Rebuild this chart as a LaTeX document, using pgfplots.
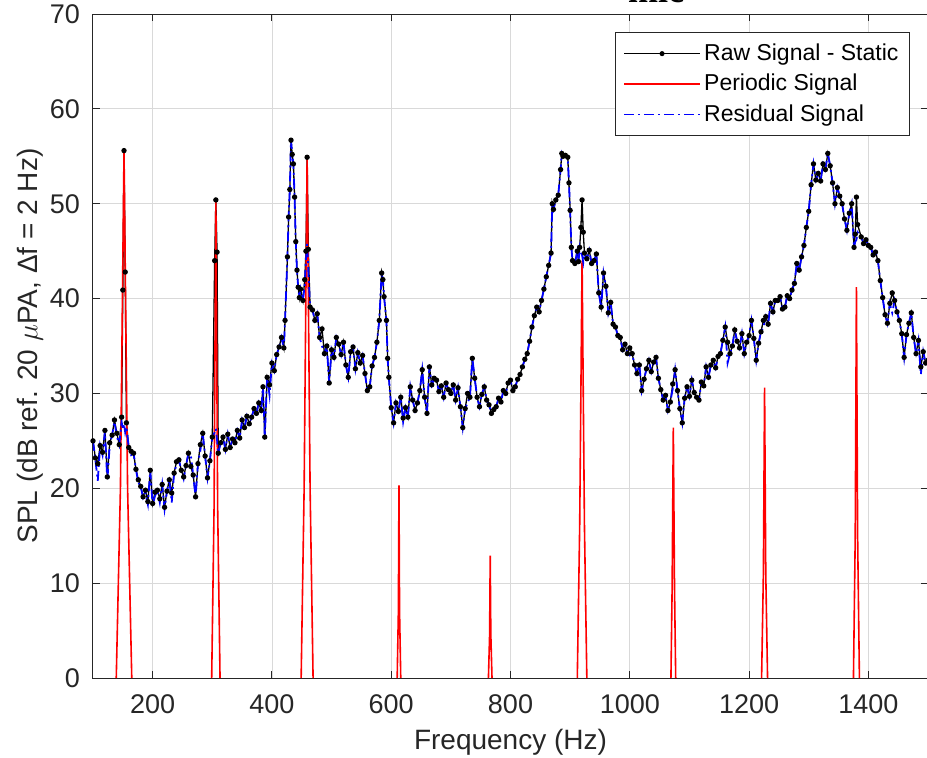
\documentclass[border=0pt]{standalone}
\usepackage{fontspec}
\setmainfont{Liberation Sans}
\newfontfamily\titlefont{Liberation Serif}
\usepackage{pgfplots}
\pgfplotsset{compat=1.18}
\usepackage{pgfplotstable}

% SPL spectra, 100-1500 Hz: raw signal and residual (periodic part removed)
\pgfplotstableread{
f raw res
100 25.0 25.0
104 23.2 23.0
108 22.6 20.8
112 24.5 24.5
116 23.8 23.5
120 26.1 26.0
124 21.2 20.8
128 24.8 24.5
132 25.6 25.6
136 27.2 27.0
140 25.8 25.5
144 24.6 24.6
148 27.5 27.0
150 40.9 26.2
152 55.6 26.8
154 42.8 25.9
156 26.9 26.5
160 24.3 24.3
164 23.9 23.5
168 23.7 23.7
172 22.0 22.0
176 20.9 20.6
180 20.2 20.2
184 19.1 19.0
188 19.8 19.5
192 18.6 18.3
196 21.9 21.9
200 18.4 18.2
204 19.6 19.2
208 19.8 19.8
212 18.9 18.5
216 20.4 20.4
220 18.0 17.8
224 19.7 19.7
228 20.9 20.9
232 19.5 18.5
236 21.6 21.6
240 22.8 22.5
244 23.0 23.0
248 21.9 21.9
252 21.2 21.0
256 22.4 22.4
260 23.7 23.7
264 22.3 23.5
268 21.4 21.4
272 19.1 19.1
276 22.6 22.6
280 24.6 24.0
284 25.8 25.8
288 23.4 23.4
292 21.1 21.1
296 22.9 22.9
300 25.4 25.4
304 44.0 25.9
306 50.4 26.3
308 44.9 25.1
310 23.7 23.7
314 24.8 24.8
318 25.4 25.4
322 24.1 24.1
326 25.7 25.7
330 24.3 24.3
334 25.2 25.2
338 24.8 24.8
342 26.1 26.1
346 25.3 25.3
350 27.2 27.2
354 26.4 26.4
358 27.6 27.6
362 26.8 26.8
366 27.5 27.5
370 28.4 28.4
374 27.9 27.9
378 29.0 29.0
382 28.2 28.2
385 30.7 30.7
388 25.4 25.4
392 31.7 31.7
396 30.9 29.8
400 33.2 33.2
404 32.4 32.4
408 34.1 34.1
412 34.9 34.9
416 35.9 35.9
420 34.8 34.8
422 37.7 37.7
426 44.4 44.4
428 48.6 48.6
430 51.5 51.5
432 56.7 56.7
434 55.2 55.2
436 54.2 54.2
438 50.7 50.7
440 46.0 46.0
442 43.0 43.0
444 41.2 41.2
446 40.1 40.1
448 41.0 41.0
452 39.8 39.8
455 42.0 41.5
457 45.0 44.0
459 54.9 45.8
461 45.2 43.0
464 39.1 39.1
468 38.8 38.8
472 37.7 37.7
476 38.4 38.4
480 35.9 35.9
484 36.8 35.0
488 34.2 34.2
492 35.0 35.0
496 31.1 31.1
500 34.6 34.6
504 33.8 33.8
508 35.9 35.9
512 35.2 35.2
516 34.1 34.1
520 35.4 35.4
524 33.0 33.0
528 31.7 31.7
532 34.4 34.4
536 34.9 34.9
540 32.6 32.6
544 34.3 34.3
548 33.2 33.2
552 34.0 34.0
556 32.1 32.1
560 30.3 30.3
564 30.7 30.7
568 32.9 32.9
572 33.8 33.8
576 35.4 35.4
580 37.7 37.7
584 42.7 42.7
586 42.0 42.0
588 40.2 40.2
592 37.7 37.7
594 33.7 33.7
596 31.7 31.7
600 28.5 28.5
604 26.9 26.9
608 29.0 29.0
612 28.1 28.1
616 29.6 29.6
620 27.4 27.0
624 28.5 28.5
628 27.5 27.5
632 30.7 30.7
636 29.3 29.3
640 28.2 28.2
644 29.0 29.0
648 30.3 30.3
652 32.5 32.5
656 29.6 29.6
660 27.9 27.9
664 32.8 32.8
668 30.9 30.9
672 31.6 31.6
676 31.4 31.4
680 30.2 30.2
684 30.8 30.8
688 29.6 29.6
692 31.1 31.1
696 30.4 30.4
700 30.0 30.0
704 30.9 30.9
708 29.3 29.3
712 30.6 30.6
716 28.6 28.6
720 26.4 26.4
724 28.4 28.4
728 30.0 29.0
732 29.6 29.6
736 33.7 33.7
740 31.6 31.6
744 29.6 29.6
748 28.6 28.6
752 29.9 29.9
756 30.7 30.7
760 29.3 29.3
764 28.8 28.8
768 27.9 27.9
772 28.3 28.3
776 28.6 28.6
780 29.5 29.5
784 29.1 29.1
788 30.3 30.3
792 30.0 30.0
796 31.1 31.1
800 31.4 31.4
804 30.3 30.3
808 30.7 30.7
812 31.5 31.5
816 32.0 32.0
820 32.8 32.8
824 33.6 33.6
828 34.2 34.2
832 35.5 35.5
836 37.0 37.0
840 38.2 38.2
844 39.1 39.1
848 38.6 38.6
852 39.8 39.8
856 41.0 41.0
860 42.3 42.3
864 43.5 43.5
868 44.8 44.8
870 50.0 50.0
872 49.4 49.4
876 50.4 50.4
880 50.9 50.9
884 53.6 53.6
886 55.3 55.3
888 55.0 55.0
892 55.1 55.1
896 54.9 54.9
898 52.2 52.2
900 49.3 49.3
902 45.4 45.4
904 44.0 44.0
908 43.7 43.7
912 45.0 45.0
914 43.9 43.9
916 45.4 45.4
918 47.5 44.9
920 50.4 44.6
922 47.0 43.8
924 44.8 44.8
928 44.2 44.2
932 45.1 45.1
936 43.7 43.7
940 44.0 44.0
944 44.7 44.7
948 40.6 40.6
952 39.1 39.1
956 42.7 42.7
960 41.3 41.3
964 38.5 38.5
968 39.6 39.6
972 37.3 37.3
976 37.0 37.0
980 36.1 36.1
984 35.9 35.9
988 34.6 34.6
992 35.2 35.2
996 34.2 34.2
1000 34.8 34.0
1004 34.2 34.2
1008 33.0 33.0
1012 32.1 32.1
1016 33.0 33.0
1020 30.3 30.3
1024 31.5 31.5
1028 32.6 32.6
1032 33.5 33.5
1036 32.3 32.3
1040 33.3 33.3
1044 33.8 33.8
1048 31.6 31.6
1052 30.4 30.4
1056 29.3 29.3
1060 29.8 29.8
1064 28.2 28.2
1068 29.1 29.1
1072 31.0 30.5
1076 32.5 32.5
1080 30.3 30.3
1084 28.4 28.4
1088 26.9 26.9
1092 29.5 29.5
1096 30.7 30.7
1100 29.7 29.7
1104 31.4 31.4
1108 30.1 30.1
1112 29.6 29.6
1116 29.3 29.3
1120 31.2 31.2
1124 30.8 30.8
1128 32.8 32.8
1132 31.7 31.7
1136 33.0 33.0
1140 33.5 33.5
1144 32.7 32.7
1148 33.9 33.9
1152 34.2 34.2
1156 35.6 35.6
1160 37.0 37.0
1164 35.4 33.2
1168 34.2 34.2
1172 35.0 35.0
1176 36.7 36.7
1180 35.5 35.5
1184 34.8 34.8
1188 36.3 36.3
1192 34.2 34.2
1196 35.4 35.4
1200 36.1 36.1
1204 37.7 37.7
1208 35.8 35.8
1212 33.5 33.5
1216 35.3 35.3
1220 36.5 36.5
1224 37.7 37.0
1228 38.1 38.1
1232 37.3 37.3
1236 39.5 39.5
1240 38.6 38.6
1244 39.8 39.8
1248 39.8 39.8
1252 40.2 40.2
1256 38.9 38.9
1260 39.1 39.1
1264 40.3 40.3
1268 40.0 40.0
1272 40.9 40.9
1276 41.6 41.6
1280 43.7 43.7
1284 43.0 43.0
1288 44.4 44.4
1292 45.6 45.6
1296 47.5 47.5
1300 49.2 49.2
1304 52.0 52.0
1308 54.2 54.2
1312 52.5 52.5
1316 53.2 53.2
1320 52.4 52.4
1324 54.2 54.2
1328 53.6 53.6
1332 55.3 55.3
1336 54.0 54.0
1340 52.2 52.2
1344 50.0 50.0
1348 51.7 51.7
1352 50.8 50.8
1356 50.0 50.0
1360 48.4 48.4
1364 47.2 47.2
1368 49.0 49.0
1372 50.0 50.0
1376 45.4 45.4
1378 46.8 46.0
1380 50.7 46.2
1382 47.8 47.0
1388 46.5 46.5
1392 45.8 45.8
1396 46.2 46.2
1400 45.6 45.6
1404 45.4 45.4
1408 44.6 44.6
1412 44.9 44.9
1416 44.0 44.0
1420 41.9 41.9
1424 40.1 40.1
1428 38.3 38.3
1432 37.4 37.4
1436 39.5 39.5
1440 40.6 38.5
1444 39.8 39.8
1448 38.6 38.6
1452 37.7 37.7
1456 36.3 36.3
1460 33.8 33.8
1464 36.2 36.2
1468 37.4 37.4
1472 38.5 38.5
1476 35.9 35.9
1480 34.2 34.2
1484 35.6 35.6
1488 32.8 32.0
1492 34.4 34.4
1496 33.2 33.2
1500 33.5 32.5
}\spl

% periodic part: narrow tonal peaks at the harmonics
\pgfplotstableread{
f per
139 0
146 20
152 55.5
158 20
165 0
nan nan
299 0
303 18
306 50.3
309 18
313 0
nan nan
449 0
454 20
459 54.8
464 20
469 0
nan nan
610 0
612 7
613 20.3
614 7
616 0
nan nan
763 0
765 4.6
766 12.9
767 4.6
769 0
nan nan
912 0
916 16
920 44.0
924 16
928 0
nan nan
1069 0
1071 9.5
1073 26.4
1075 9.5
1077 0
nan nan
1221 0
1224 11
1226 30.6
1228 11
1231 0
nan nan
1375 0
1378 15
1380 41.2
1382 15
1385 0
}\periodic

\begin{document}
\begin{tikzpicture}
\begin{axis}[
  name=ax, at={(0,0)}, anchor=south west,
  scale only axis, width=417.5pt, height=332pt,
  xmin=100, xmax=1500, ymin=0, ymax=70,
  xtick={200,400,...,1400}, ytick={0,10,...,70},
  tick pos=both,
  grid=major, major grid style={black!15, line width=0.4pt},
  tick align=inside, major tick length=3.5pt,
  axis line style={black!85, line width=0.5pt},
  every tick/.style={black!85, line width=0.5pt},
  tick label style={font=\fontsize{13.5}{16}\selectfont, text=black!85},
  xticklabel style={yshift=-5pt},
  yticklabel style={xshift=-3pt},
  /pgf/number format/assume math mode=true,
  /pgf/number format/1000 sep={},
  scaled ticks=false,
  label style={font=\fontsize{14}{17}\selectfont, text=black!85},
  xlabel={Frequency (Hz)},
  ylabel={SPL (dB ref. 20 $\mu$PA, Δf = 2 Hz)},
  xlabel style={at={(axis description cs:0.5,-0.0964)}, anchor=center},
  ylabel style={at={(axis description cs:-0.0754,0.5)}, anchor=center},
  legend style={at={(0.9784,0.9729)}, anchor=north east,
    font=\fontsize{11.5}{13.8}\selectfont, draw=black!85, line width=0.5pt,
    fill=white, inner xsep=3.75pt, inner ysep=3pt,
    nodes={inner xsep=1.75pt, inner ysep=2.65pt}},
  legend cell align=left,
  legend image code/.code={\draw[mark repeat=2,mark phase=2,#1]
    plot coordinates {(0pt,0pt) (19pt,0pt) (38pt,0pt)};},
]
\addplot[black, line width=0.65pt, mark=*, mark size=1pt, mark options={solid},
  legend image post style={draw=black, fill=black, line width=0.5pt}]
  table[x=f, y=raw]{\spl};
\addlegendentry{Raw Signal - Static}
\addplot[red, line width=0.8pt, unbounded coords=jump,
  legend image post style={draw=red, line width=0.6pt}]
  table[x=f, y=per]{\periodic};
\addlegendentry{Periodic Signal}
\addplot[blue, line width=0.9pt, dash pattern=on 5pt off 2pt on 1pt off 2pt,
  legend image post style={draw=blue, line width=0.6pt}]
  table[x=f, y=res]{\spl};
\addlegendentry{Residual Signal}
\end{axis}
% title, mostly cut off at the top edge as in the reference
\node[anchor=base, font=\titlefont\bfseries\fontsize{18}{21}\selectfont]
  at (281.5pt,337.5pt) {mic};
\pgfresetboundingbox
\useasboundingbox (-46.5pt,-39.5pt) rectangle (417pt,339pt);
\end{tikzpicture}
\end{document}
